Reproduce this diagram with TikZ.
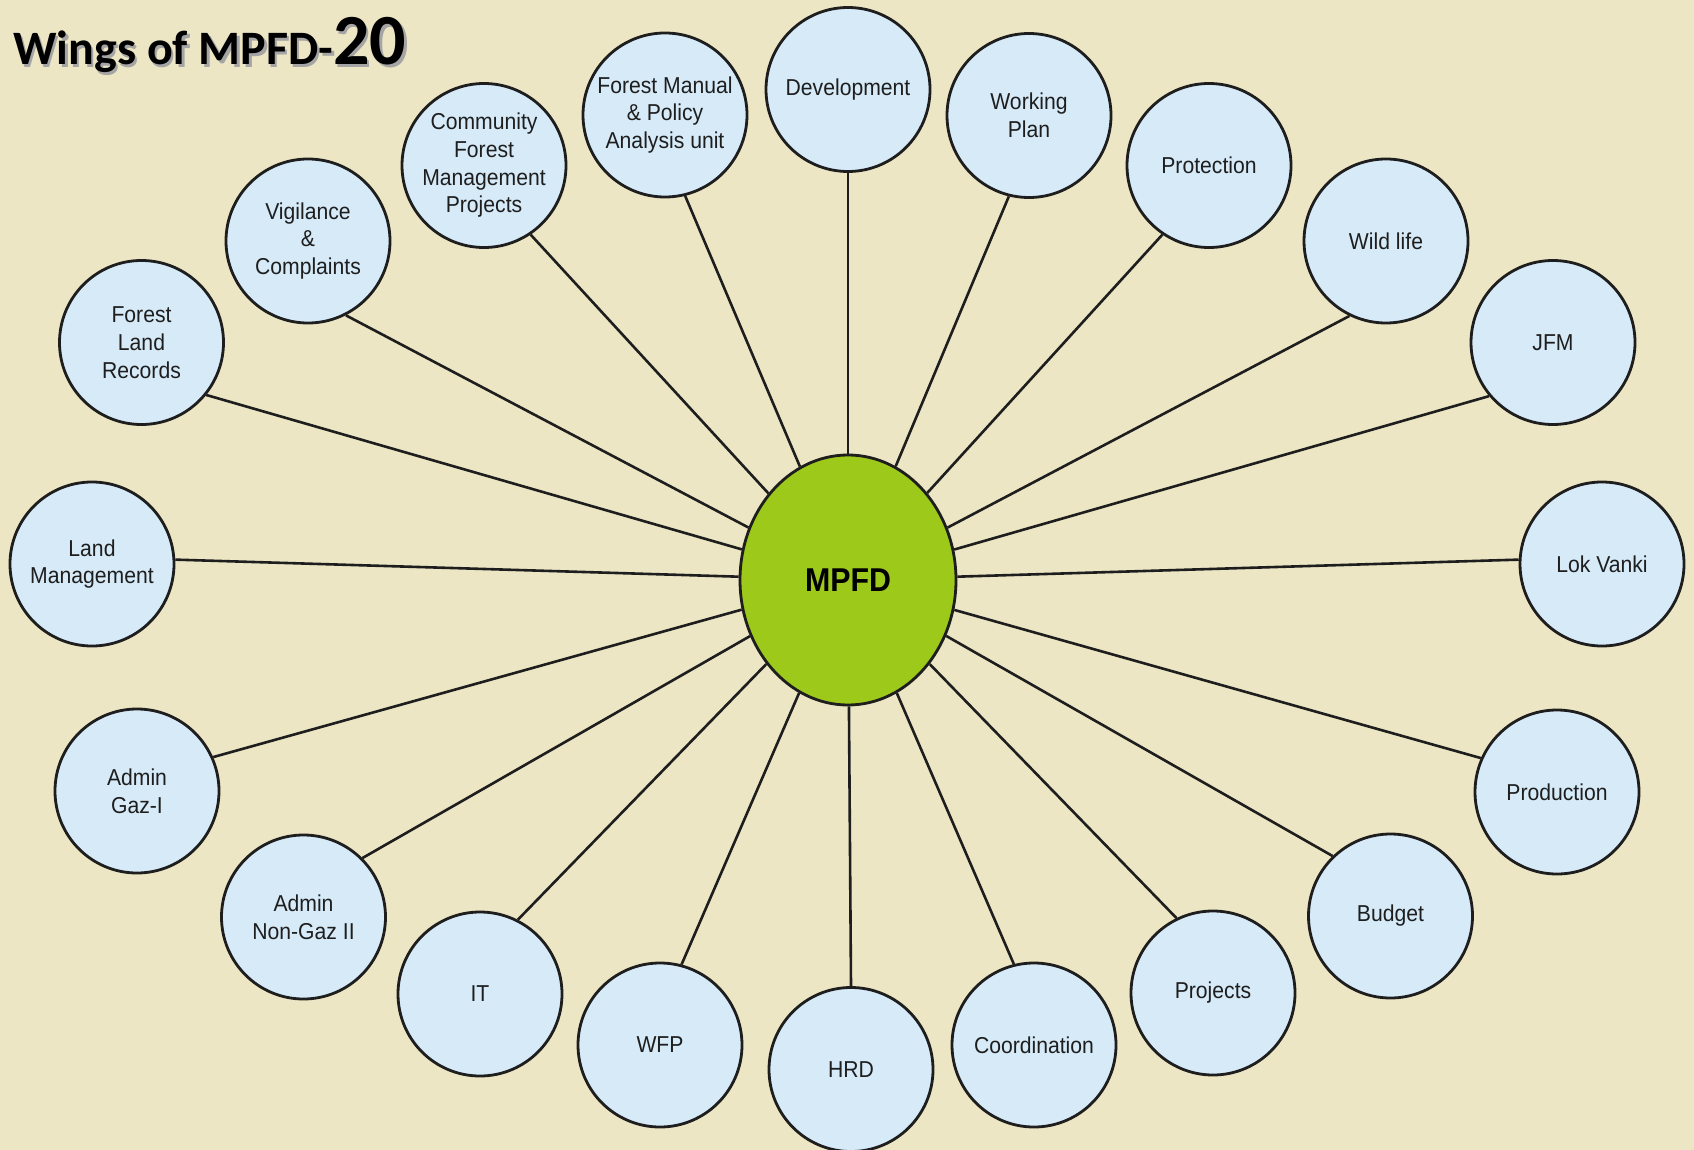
\documentclass[tikz,border=0pt]{standalone}
\usepackage{fontspec}
\setmainfont{Liberation Sans}[FakeStretch=0.92]
\newfontfamily\titlefont{Carlito}
\usetikzlibrary{shapes.geometric}
\pgfdeclarelayer{bg}
\pgfdeclarelayer{lines}
\pgfsetlayers{bg,lines,main}
\definecolor{bgc}{RGB}{236,230,196}
\definecolor{wingfill}{RGB}{214,234,248}
\definecolor{hubfill}{RGB}{157,201,26}
\definecolor{ink}{RGB}{30,30,30}
\definecolor{shade}{RGB}{165,165,165}
\begin{document}
\begin{tikzpicture}[x=1pt,y=-1pt,
  wing/.style={circle, draw=ink, line width=2.8pt, fill=wingfill, minimum size=164pt, inner sep=0pt, align=center, text=ink, font=\fontsize{23}{27.7}\selectfont},
  hub/.style={ellipse, draw=ink, line width=2.8pt, fill=hubfill, minimum width=216pt, minimum height=250pt, inner sep=0pt, font=\bfseries\fontsize{33}{36}\selectfont, text=black},
  conn/.style={draw=ink, line width=2.6pt},
  titletext/.style={anchor=base west, inner sep=0pt, font=\titlefont\bfseries\fontsize{48}{50}\selectfont}]
\begin{pgfonlayer}{bg}
\fill[bgc] (0,0) rectangle (1694,1150);
\end{pgfonlayer}
\useasboundingbox (0,0) rectangle (1694,1150);

% title with shadow
\node[titletext, text=shade] (titleshadow) at (15.5,67.5) {Wings of MPFD-{\fontsize{72}{74}\selectfont 20}};
\node[titletext, text=black] (title) at (13,65) {Wings of MPFD-{\fontsize{72}{74}\selectfont 20}};

% hub
\node[hub] (hub) at (848,580) {MPFD};

% wings
\node[wing] (w1)  at (141.5,342.5) {Forest\\Land\\Records};
\node[wing] (w2)  at (308,241)   {Vigilance\\\&\\Complaints};
\node[wing] (w3)  at (484,165.5) {Community\\Forest\\Management\\Projects};
\node[wing] (w4)  at (665,115)   {Forest Manual\\\& Policy\\Analysis unit};
\node[wing] (w5)  at (848,89.5)  {Development};
\node[wing] (w6)  at (1029,115.5) {Working\\Plan};
\node[wing] (w7)  at (1209,165.5) {Protection};
\node[wing] (w8)  at (1386,241)  {Wild life};
\node[wing] (w9)  at (1553,342.5) {JFM};
\node[wing] (w10) at (1602,564)  {Lok Vanki};
\node[wing] (w11) at (1557,792)  {Production};
\node[wing] (w12) at (1390.5,916) {Budget};
\node[wing] (w13) at (1213,993)  {Projects};
\node[wing] (w14) at (1034,1045) {Coordination};
\node[wing] (w15) at (851,1069.5) {HRD};
\node[wing] (w16) at (660,1045)  {WFP};
\node[wing] (w17) at (480,994)   {IT};
\node[wing] (w18) at (303.5,917) {Admin\\Non-Gaz II};
\node[wing] (w19) at (137,791)   {Admin\\Gaz-I};
\node[wing] (w20) at (92,564)    {Land\\Management};

\begin{pgfonlayer}{lines}
\draw[conn] (hub) -- (w1.-39.5);
\draw[conn] (hub) -- (w2.-63.5);
\draw[conn] (hub) -- (w3.-56);
\draw[conn] (hub) -- (w4.-76);
\draw[conn] (hub) -- (w5.-90);
\draw[conn] (hub) -- (w6.-104);
\draw[conn] (hub) -- (w7.-124);
\draw[conn] (hub) -- (w8.-116.5);
\draw[conn] (hub) -- (w9.-140.5);
\draw[conn] (hub) -- (w10.177);
\draw[conn] (hub) -- (w11.156);
\draw[conn] (hub) -- (w12.134.8);
\draw[conn] (hub) -- (w13.116.5);
\draw[conn] (hub) -- (w14.104.8);
\draw[conn] (hub) -- (w15.90);
\draw[conn] (hub) -- (w16.75.2);
\draw[conn] (hub) -- (w17.63.5);
\draw[conn] (hub) -- (w18.45.2);
\draw[conn] (hub) -- (w19.24);
\draw[conn] (hub) -- (w20.3);
\end{pgfonlayer}
\end{tikzpicture}
\end{document}
